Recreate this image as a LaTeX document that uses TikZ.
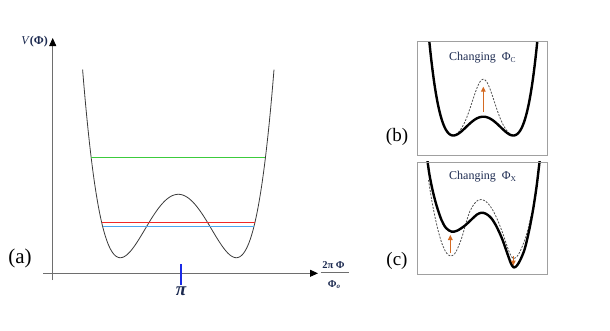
\documentclass[tikz,border=0pt]{standalone}
\usepackage{fontspec}
\setmainfont{Liberation Serif}
\usetikzlibrary{arrows.meta}
\definecolor{axisgray}{HTML}{6E6E6E}
\definecolor{curvegray}{HTML}{3A3A3A}
\definecolor{navytext}{HTML}{1C2A50}
\definecolor{orangearrow}{HTML}{D46A22}
\definecolor{levelgreen}{HTML}{3CCB3C}
\definecolor{levelred}{HTML}{F02828}
\definecolor{levelblue}{HTML}{4DA6F0}
\definecolor{tickblue}{HTML}{1A2AE6}
\definecolor{boxgray}{HTML}{A0A0A0}
\definecolor{dashgray}{HTML}{505050}
\begin{document}
\begin{tikzpicture}[x=1pt,y=-1pt,
  declare function={qa(\u)=((\u/58)*(\u/58)-1)*((\u/58)*(\u/58)-1);
                    qb(\u)=((\u/30)*(\u/30)-1)*((\u/30)*(\u/30)-1);},
  axisline/.style={draw=axisgray, line width=0.9pt, -{Triangle[length=8pt,width=7pt,color=black]}},
  curveA/.style={draw=curvegray, line width=0.8pt},
  level/.style={line width=1pt},
  thickcurve/.style={draw=black, line width=2.4pt, line join=round, line cap=round},
  dashcurve/.style={draw=dashgray, line width=0.8pt, dash pattern=on 2pt off 1.4pt},
  panelbox/.style={draw=boxgray, line width=1.1pt},
  orangearr/.style={draw=orangearrow, line width=1.1pt, -{Triangle[length=5pt,width=4.6pt]}},
  panellabel/.style={font=\fontsize{19}{21}\selectfont, text=black},
  changelabel/.style={font=\fontsize{12}{14}\selectfont, text=navytext, anchor=base west, inner sep=0pt}
]
\useasboundingbox (0,0) rectangle (610,330);

% ---------- panel (a) ----------
\coordinate (yaxis-start) at (52.7,280);
\coordinate (yaxis-end) at (52.7,38);
\coordinate (xaxis-start) at (43,273.3);
\coordinate (xaxis-end) at (318,273.3);
\draw[axisline] (yaxis-start) -- (yaxis-end);
\draw[axisline] (xaxis-start) -- (xaxis-end);

\node[anchor=east, inner sep=1pt, text=navytext, font=\fontsize{12}{14}\selectfont] (vlabel) at (49,42) {\textit{V}\textbf{(Φ)}};

% fraction label of the x axis
\node[anchor=base, inner sep=0pt, text=navytext, font=\fontsize{10.5}{12}\selectfont\bfseries] (xnum) at (333.5,268.3) {2π Φ};
\node[anchor=base, inner sep=0pt, text=navytext, font=\fontsize{10.5}{12}\selectfont\bfseries] (xden) at (334,287) {Φ\raisebox{-0.35ex}{\fontsize{7}{8}\selectfont\itshape o}};
\coordinate (bar-left) at (320.5,272.7);
\coordinate (bar-right) at (348.5,272.7);
\draw[axisgray, line width=0.9pt] (bar-left) -- (bar-right);

% potential curve
\draw[curveA] plot[domain=-95.7:95.7, samples=161, smooth] ({178.3+\x},{257.7-63.4*qa(\x)});

% energy levels
\coordinate (green-l) at (91.4,157);
\coordinate (green-r) at (265.2,157);
\coordinate (red-l) at (101.6,222);
\coordinate (red-r) at (255,222);
\coordinate (blue-l) at (102.8,226.7);
\coordinate (blue-r) at (253.8,226.7);
\draw[level, levelgreen] (green-l) -- (green-r);
\draw[level, levelred] (red-l) -- (red-r);
\draw[level, levelblue] (blue-l) -- (blue-r);

% pi tick
\coordinate (tick-top) at (181,264.3);
\coordinate (tick-bot) at (181,285);
\draw[tickblue, line width=1.4pt] (tick-top) -- (tick-bot);
\node[anchor=base, inner sep=0pt, font=\fontsize{19}{21}\selectfont\bfseries\itshape, text=navytext] (pilabel) at (181,295) {π};

\node[panellabel, font=\fontsize{21}{23}\selectfont] (alabel) at (20,258) {(a)};

% ---------- panel (b) ----------
\begin{scope}
\clip (416.7,41) rectangle (547,155);
\draw[dashcurve] plot[domain=-31:31, samples=81, smooth] ({483.3+\x},{135.5-18.8*qb(\x)-37.4*exp(-(\x*\x)/192)});
\draw[thickcurve] plot[domain=-58:58, samples=121, smooth] ({483.3+\x},{135.5-18.8*qb(\x)});
\end{scope}
\coordinate (barr-start) at (483.3,111.7);
\coordinate (barr-end) at (483.3,86.7);
\draw[orangearr] (barr-start) -- (barr-end);
\node[changelabel] (btitle) at (449,60) {Changing \ Φ\raisebox{-0.45ex}{\fontsize{7.5}{8}\selectfont C}};
\node[panelbox, minimum width=130.3pt, minimum height=114pt, anchor=north west, inner sep=0pt] (boxb) at (416.7,41) {};
\node[panellabel] (blabel) at (397,136.7) {(b)};

% ---------- panel (c) ----------
\begin{scope}
\clip (416.7,161.7) rectangle (547,274);
\draw[dashcurve] plot[smooth] coordinates {(428.5,180) (431.7,200) (435,217) (438.5,232) (442.5,245) (446.5,253) (450.5,256) (454.5,254) (458,247.5) (462,237) (466,223) (470,211) (474.5,203.5) (478,200.3) (481,199.5) (484.5,200.5) (488.5,204) (493,210.5) (498,221) (503,234) (507,246) (510.3,254.5) (513,258.3) (516,257.5) (519,253.5) (522,247) (525.5,238) (528.5,227) (531,216)};
\draw[thickcurve] plot[smooth] coordinates {(426,150) (429.5,175) (433.3,193.3) (437,207) (441.5,220) (446,228) (451.7,231.7) (457.5,230.5) (465,225.5) (472,219) (477,214.5) (481.5,212.7) (486,213.8) (491,217.8) (496,225.5) (502,238.5) (507.5,254) (511,263.5) (513.8,267.5) (517,265.5) (520.5,259.5) (524.7,249) (529,231) (533,210) (536.5,187) (539.5,162) (540.7,150)};
\end{scope}
\coordinate (carrL-start) at (450.3,253.3);
\coordinate (carrL-end) at (450.3,235);
\coordinate (carrR-start) at (513.3,256);
\coordinate (carrR-end) at (513.3,265.5);
\draw[orangearr] (carrL-start) -- (carrL-end);
\draw[orangearr] (carrR-start) -- (carrR-end);
\node[changelabel] (ctitle) at (449,179.5) {Changing \ Φ\raisebox{-0.45ex}{\fontsize{7.5}{8}\selectfont X}};
\node[panelbox, minimum width=130.3pt, minimum height=112.3pt, anchor=north west, inner sep=0pt] (boxc) at (416.7,161.7) {};
\node[panellabel] (clabel) at (397,261) {(c)};
\end{tikzpicture}
\end{document}
